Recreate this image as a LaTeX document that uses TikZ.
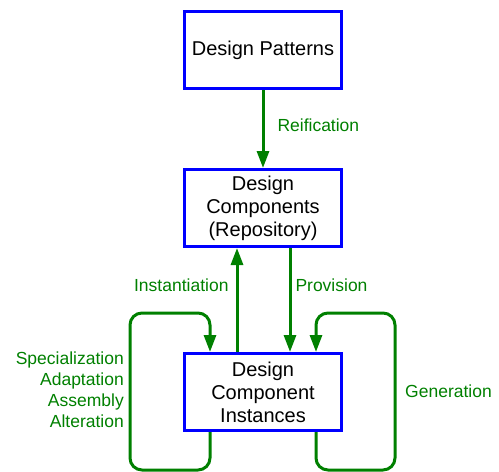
\documentclass[tikz,border=0pt]{standalone}
\usepackage{fontspec}
\setmainfont{Liberation Sans}
\usetikzlibrary{arrows.meta,positioning}

\tikzset{
    scatola/.style={draw=blue, line width=3pt, minimum width=157pt, minimum height=77pt,
        inner sep=0pt, align=center, font=\fontsize{20}{23}\selectfont},
    freccia/.style={-{Triangle[length=17pt,width=12pt]}, line width=3pt, green!50!black},
    ciclo/.style={freccia, rounded corners=12pt},
    etichetta/.style={green!50!black, inner sep=0pt, font=\fontsize{17.5}{21}\selectfont}
}

\begin{document}
\begin{tikzpicture}[x=1pt,y=-1pt]
        \useasboundingbox (0,0) rectangle (499,472);

        % Disegna le scatole
        \node[scatola] (pat) at (263,50) {Design Patterns};
        \node[scatola] (comp) at (263,208) {Design\\Components\\(Repository)};
        \node[scatola] (inst) at (263,392) {Design\\Component\\Instances};

        % Frecce verticali
        \draw[freccia] (pat) -- (comp) node[etichetta, pos=0.45, right=13pt] {Reification};
        \draw[freccia] ([xshift=-26pt]inst.north) -- ([xshift=-26pt]comp.south)
            node[etichetta, pos=0.64, left=7pt] {Instantiation};
        \draw[freccia] ([xshift=27pt]comp.south) -- ([xshift=27pt]inst.north)
            node[etichetta, pos=0.36, right=4pt] {Provision};

        % Cicli
        \coordinate (fondo) at (0,470);
        \coordinate (cima) at (0,313);
        \coordinate (sinistra) at (130,0);
        \coordinate (destra) at (395,0);
        \draw[ciclo] ([xshift=-53pt]inst.south) -- ([xshift=-53pt]inst.south |- fondo) -| (sinistra |- cima)
            -- ([xshift=-53pt]inst.north |- cima) -- ([xshift=-53pt]inst.north);
        \draw[ciclo] ([xshift=53pt]inst.south) -- ([xshift=53pt]inst.south |- fondo) -| (destra |- cima)
            -- ([xshift=53pt]inst.north |- cima) -- ([xshift=53pt]inst.north);

        \node[etichetta, align=right, anchor=east] (adatt) at (124,390) {Specialization\\Adaptation\\Assembly\\Alteration};
        \node[etichetta, anchor=west] (gen) at (405,391) {Generation};
    \end{tikzpicture}
\end{document}
